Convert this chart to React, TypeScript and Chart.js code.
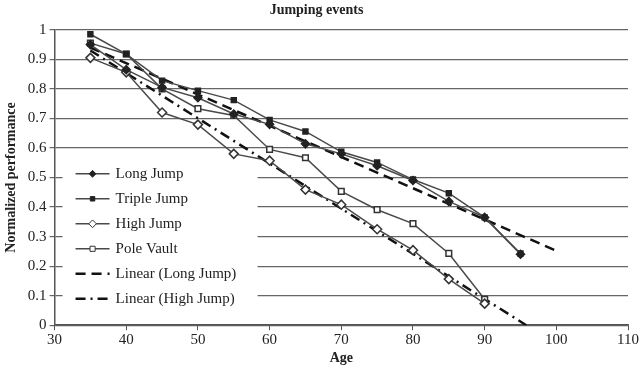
import React, { useEffect, useRef } from "react";
import { Chart, registerables } from "chart.js";

Chart.register(...registerables);

const ages = [35, 40, 45, 50, 55, 60, 65, 70, 75, 80, 85, 90, 95];
const longJump = [0.95, 0.865, 0.805, 0.77, 0.715, 0.68, 0.614, 0.58, 0.54, 0.49, 0.419, 0.365, 0.24];
const tripleJump = [0.985, 0.918, 0.828, 0.794, 0.762, 0.695, 0.656, 0.587, 0.551, 0.493, 0.447, 0.365, 0.243];
const highJump = [0.905, 0.856, 0.72, 0.679, 0.58, 0.557, 0.459, 0.408, 0.325, 0.254, 0.156, 0.073];
const poleVault = [0.955, 0.918, 0.8, 0.733, 0.71, 0.595, 0.567, 0.453, 0.391, 0.344, 0.243, 0.088];
const trendLongX = [35, 100];
const trendLongY = [0.94, 0.252];
const trendHighX = [35, 95.8];
const trendHighY = [0.93, 0.0];

const FONT = "'Liberation Serif', 'DejaVu Serif', serif";

const toPts = (xs: number[], ys: number[]) => ys.map((y, i) => ({ x: xs[i], y }));

const legendPlugin = {
  id: "insideLegend",
  beforeDatasetsDraw(chart: any) {
    const ctx = chart.ctx;
    const ca = chart.chartArea;
    const bx = ca.left + 8;
    const by = ca.top + 126;
    const bw = 195;
    const bh = 157;
    ctx.save();
    ctx.fillStyle = "#ffffff";
    ctx.fillRect(bx, by, bw, bh);
    const items = chart.data.datasets;
    items.forEach((ds: any, i: number) => {
      const cy = by + 18 + i * 25;
      const x0 = bx + 13;
      const x1 = bx + 47;
      ctx.beginPath();
      ctx.strokeStyle = ds.borderColor;
      ctx.lineWidth = ds.borderWidth;
      ctx.setLineDash(ds.borderDash || []);
      ctx.moveTo(x0, cy);
      ctx.lineTo(x1, cy);
      ctx.stroke();
      ctx.setLineDash([]);
      if (ds.pointRadius > 0) {
        const mx = (x0 + x1) / 2;
        const r = ds.pointRadius * 0.85;
        ctx.beginPath();
        if (ds.pointStyle === "rectRot") {
          ctx.moveTo(mx, cy - r);
          ctx.lineTo(mx + r, cy);
          ctx.lineTo(mx, cy + r);
          ctx.lineTo(mx - r, cy);
          ctx.closePath();
        } else {
          const s = r * 0.75;
          ctx.rect(mx - s, cy - s, 2 * s, 2 * s);
        }
        ctx.fillStyle = ds.pointBackgroundColor;
        ctx.fill();
        ctx.lineWidth = 1;
        ctx.strokeStyle = ds.pointBorderColor;
        ctx.stroke();
      }
      ctx.fillStyle = "#222";
      ctx.font = "15px " + FONT;
      ctx.textBaseline = "middle";
      ctx.textAlign = "left";
      ctx.fillText(ds.label, bx + 53, cy);
    });
    ctx.restore();
  },
};

export default function App() {
  const ref = useRef<HTMLCanvasElement>(null);
  useEffect(() => {
    if (!ref.current) return;
    const lineColor = "#4a4a4a";
    const chart = new Chart(ref.current, {
      type: "scatter",
      data: {
        datasets: [
          {
            label: "Long Jump",
            data: toPts(ages, longJump),
            showLine: true,
            borderColor: lineColor,
            borderWidth: 1.5,
            pointStyle: "rectRot",
            pointRadius: 4,
            pointBackgroundColor: "#222",
            pointBorderColor: "#222",
          },
          {
            label: "Triple Jump",
            data: toPts(ages, tripleJump),
            showLine: true,
            borderColor: lineColor,
            borderWidth: 1.5,
            pointStyle: "rect",
            pointRadius: 3.5,
            pointBackgroundColor: "#222",
            pointBorderColor: "#222",
          },
          {
            label: "High Jump",
            data: toPts(ages, highJump),
            showLine: true,
            borderColor: lineColor,
            borderWidth: 1.5,
            pointStyle: "rectRot",
            pointRadius: 4.5,
            pointBackgroundColor: "#ffffff",
            pointBorderColor: "#333",
          },
          {
            label: "Pole Vault",
            data: toPts(ages, poleVault),
            showLine: true,
            borderColor: lineColor,
            borderWidth: 1.5,
            pointStyle: "rect",
            pointRadius: 4,
            pointBackgroundColor: "#ffffff",
            pointBorderColor: "#333",
          },
          {
            label: "Linear (Long Jump)",
            data: toPts(trendLongX, trendLongY),
            showLine: true,
            borderColor: "#111",
            borderWidth: 2.5,
            borderDash: [10, 6],
            pointRadius: 0,
          },
          {
            label: "Linear (High Jump)",
            data: toPts(trendHighX, trendHighY),
            showLine: true,
            borderColor: "#111",
            borderWidth: 2.5,
            borderDash: [10, 5, 2, 5],
            pointRadius: 0,
          },
        ],
      },
      options: {
        animation: false,
        responsive: false,
        maintainAspectRatio: false,
        layout: { padding: { left: 3, right: 10, top: 0, bottom: 0 } },
        plugins: {
          legend: { display: false },
          tooltip: { enabled: false },
          title: {
            display: true,
            text: "Jumping events",
            color: "#222",
            font: { family: FONT, size: 14, weight: "bold" },
            padding: { top: 2, bottom: 11 },
          },
        },
        scales: {
          x: {
            type: "linear",
            min: 30,
            max: 110,
            ticks: { stepSize: 10, color: "#222", font: { family: FONT, size: 15 }, padding: 1 },
            grid: { drawOnChartArea: false, drawTicks: true, tickLength: 5, color: "#555" },
            border: { display: true, color: "#555", width: 1.5 },
            title: {
              display: true,
              text: "Age",
              color: "#222",
              font: { family: FONT, size: 14, weight: "bold" },
              padding: { top: 0, bottom: 0 },
            },
          },
          y: {
            min: 0,
            max: 1,
            ticks: {
              stepSize: 0.1,
              color: "#222",
              font: { family: FONT, size: 15 },
              padding: 3,
              callback: (v: any) => String(Number(Number(v).toFixed(1))),
            },
            grid: { color: "#666", lineWidth: 1.2, tickLength: 5 },
            border: { display: true, color: "#555", width: 1.5 },
            title: {
              display: true,
              text: "Normalized performance",
              color: "#222",
              font: { family: FONT, size: 14, weight: "bold" },
              padding: { top: 0, bottom: 5 },
            },
          },
        },
      },
      plugins: [legendPlugin],
    });
    return () => chart.destroy();
  }, []);
  return (
    <div style={{ position: "absolute", left: 0, top: 0, width: 640, height: 367, background: "#fff" }}>
      <canvas ref={ref} width={640} height={367} />
    </div>
  );
}
